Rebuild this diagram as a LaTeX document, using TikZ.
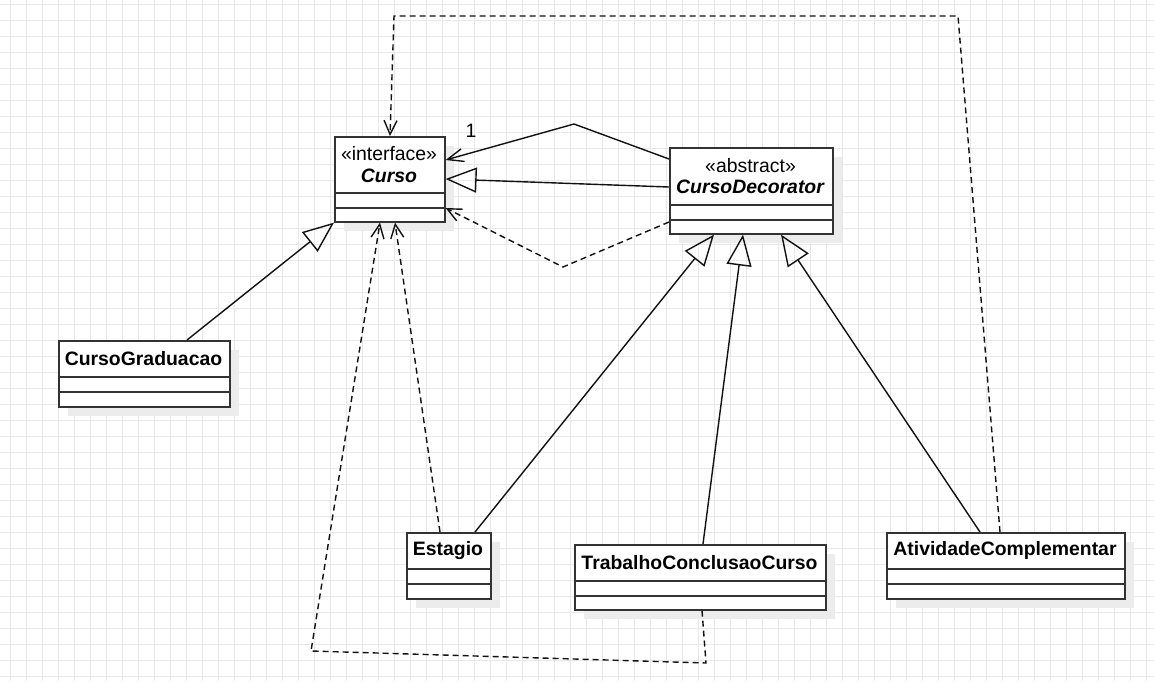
\documentclass[tikz,border=0pt]{standalone}
\usepackage{fontspec}
\setmainfont{Liberation Sans}
\usetikzlibrary{arrows.meta,calc}

\definecolor{gridc}{RGB}{232,232,232}
\definecolor{shadowc}{RGB}{236,236,236}
\definecolor{boxc}{RGB}{51,51,51}
\definecolor{linec}{RGB}{17,17,17}

\tikzset{
  umlbox/.style={draw=boxc, fill=white, line width=1.6pt, rectangle, inner sep=0pt, anchor=north west},
  umldiv/.style={draw=boxc, line width=1.4pt},
  umltitle/.style={inner sep=0pt, align=center, font=\fontsize{19.4}{21.5}\selectfont},
  umllabel/.style={inner sep=0pt, font=\fontsize{19.4}{21.5}\selectfont},
  conn/.style={draw=linec, line width=1.4pt, line join=miter},
  inherit/.style={conn, -{Triangle[open, length=31pt, width=25pt]}},
  depend/.style={conn, dash pattern=on 6pt off 4pt, -{Straight Barb[length=14pt, width=13pt]}},
  assoc/.style={conn, -{Straight Barb[length=16pt, width=13pt]}},
}

% class box: name, left, top, width, height, title height, title
\newcommand\umlclass[7]{%
  \fill[shadowc] (#2+10,#3+10) rectangle (#2+10+#4,#3+10+#5);
  \node[umlbox, minimum width=#4pt, minimum height=#5pt] (#1) at (#2,#3) {};
  \draw[umldiv] ([yshift=-#6pt]#1.north west) -- ([yshift=-#6pt]#1.north east);
  \draw[umldiv] ([yshift=-#6pt-15pt]#1.north west) -- ([yshift=-#6pt-15pt]#1.north east);
  \node[umltitle] (#1-title) at (#2+#4/2,#3+#6/2) {#7};
}

\begin{document}
\begin{tikzpicture}[x=1pt,y=-1pt]
  \useasboundingbox (0,0) rectangle (1154,681);
  \fill[white] (0,0) rectangle (1154,681);

  % background grid
  \foreach \gx in {10,26,...,1154} \draw[gridc, line width=0.8pt] (\gx,0) -- (\gx,681);
  \foreach \gy in {4,20,...,681} \draw[gridc, line width=0.8pt] (0,\gy) -- (1154,\gy);

  % classes
  \umlclass{curso}{334}{136}{110}{85}{57}{«interface»\\\textbf{\textit{Curso}}}
  \umlclass{dec}{669}{147}{163}{86}{58}{«abstract»\\\textbf{\textit{CursoDecorator}}}
  \umlclass{grad}{58}{340}{171}{66}{37}{\textbf{CursoGraduacao}}
  \umlclass{est}{406}{532}{84}{66}{37}{\textbf{Estagio}}
  \umlclass{tcc}{574}{544}{251}{65}{37}{\textbf{TrabalhoConclusaoCurso}}
  \umlclass{ativ}{886}{532}{238}{66}{37}{\textbf{AtividadeComplementar}}

  % bend points of routed connectors
  \coordinate (assocbend) at (574,124);
  \coordinate (depbend) at (563,267);
  \coordinate (tccA) at (706,663);
  \coordinate (tccB) at (311,651);
  \coordinate (topR) at (958,16);
  \coordinate (topL) at (394,16);

  % generalizations
  \draw[inherit] ([xshift=129pt]grad.north west) -- (curso.south west);
  \draw[inherit] ([yshift=-40pt]dec.north west) -- ([yshift=-43pt]curso.north east);
  \draw[inherit] ([xshift=69pt]est.north west) -- ([xshift=45pt]dec.south west);
  \draw[inherit] ([xshift=129pt]tcc.north west) -- ([xshift=74pt]dec.south west);
  \draw[inherit] ([xshift=94pt]ativ.north west) -- ([xshift=112pt]dec.south west);

  % association with multiplicity
  \draw[assoc] ([yshift=-12pt]dec.north west) -- (assocbend) -- ([yshift=-24pt]curso.north east);
  \node[umllabel] (mult) at (471,131) {1};

  % dependencies
  \draw[depend] ([yshift=-75pt]dec.north west) -- (depbend) -- ([yshift=-72pt]curso.north east);
  \draw[depend] ([xshift=34pt]est.north west) -- ([xshift=61pt]curso.south west);
  \draw[depend] ([xshift=128pt]tcc.south west) -- (tccA) -- (tccB) -- ([xshift=46pt]curso.south west);
  \draw[depend] ([xshift=114pt]ativ.north west) -- (topR) -- (topL) -- ([xshift=56pt]curso.north west);
\end{tikzpicture}
\end{document}
